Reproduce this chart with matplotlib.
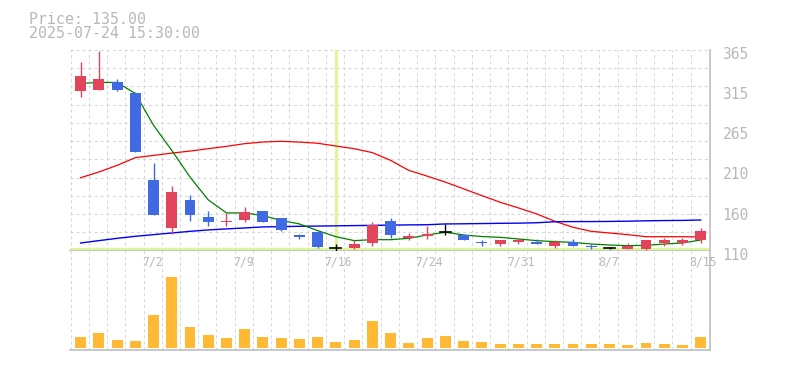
import matplotlib
matplotlib.use("Agg")
import matplotlib.pyplot as plt
from matplotlib.transforms import ScaledTranslation, blended_transform_factory
from matplotlib.patches import Rectangle

dates = ["6/26", "6/27", "6/30", "7/1", "7/2", "7/3", "7/4", "7/7", "7/8", "7/9",
         "7/10", "7/11", "7/14", "7/15", "7/16", "7/17", "7/18", "7/22", "7/23", "7/24",
         "7/25", "7/28", "7/29", "7/30", "7/31", "8/1", "8/4", "8/5", "8/6", "8/7",
         "8/8", "8/12", "8/13", "8/14", "8/15"]
opens = [313, 314, 324, 311, 200, 139, 174, 153, 146, 149.5,
         160, 151, 130.5, 134, 113, 114, 119.5, 148, 126, 128.3,
         133.5, 130.5, 120.3, 119, 120.5, 121.5, 115.5, 121.5, 115.3, 113.5,
         112.6, 112.5, 119.5, 120, 124]
highs = [350, 364, 328, 312, 221, 192, 181, 160, 158, 166,
         161, 152, 131, 135, 118.5, 123, 146, 152, 132.5, 142,
         144, 130.5, 124, 123, 126.5, 124.5, 123, 124.5, 118.5, 115,
         120, 124, 126, 126.5, 139]
lows = [305, 314, 313, 235, 155, 131, 148, 142, 142, 147,
        147, 135.5, 124.5, 114, 110.2, 112, 115.5, 126, 123.5, 124.5,
        129.5, 123.5, 116.5, 116.5, 118.5, 119, 114, 115.5, 112, 111.7,
        112.5, 111.3, 116.5, 117, 120]
closes = [332, 328, 314, 235, 155, 184, 155, 147, 148, 159,
          147, 136.5, 128, 115, 113, 118.5, 143, 129.5, 129, 131.7,
          133.5, 123.5, 119.8, 123, 123.5, 119, 120.5, 115.5, 115, 113.5,
          116, 124, 123, 123, 135]
ma5 = [322.5, 323.8, 323.8, 309.7, 269.4, 237.5, 203.5, 174.6, 158, 158,
       154.6, 148.5, 144, 135.5, 127.8, 122.8, 124, 124, 125.7, 130,
       133.4, 130, 128, 127, 124.9, 122.8, 121.5, 120.6, 118.5, 117.2,
       116.4, 116.8, 118.5, 119.8, 123.6]
ma25 = [202.7, 210, 218.4, 228.2, 231.1, 234, 236.6, 239.6, 242.6, 246,
        248.1, 249, 248, 246.5, 243, 239.6, 234.6, 224.8, 212, 204.8,
        197.1, 188.6, 180, 171.6, 164.4, 156.8, 147.4, 139.8, 134.6, 132.5,
        130.4, 127.8, 127.8, 127.8, 127.5]
ma75 = [119.8, 122.8, 125.7, 128.3, 130.4, 132.5, 134.6, 136.4, 137.7, 138.9,
        140.2, 140.6, 141, 141.3, 141.6, 141.9, 142.2, 142.5, 142.8, 143,
        144, 144.2, 144.5, 144.8, 145, 145.5, 146.8, 147, 147, 147.2,
        147.5, 148, 148.3, 148.5, 149]
volumes = [110, 150, 80, 70, 330, 710, 210, 130, 100, 190,
           110, 100, 90, 110, 60, 80, 270, 150, 50, 100,
           120, 70, 60, 40, 40, 40, 40, 40, 40, 40,
           30, 50, 40, 30, 110]
price_ticks = [110, 161, 212, 263, 314, 365]
price_tick_labels = ["110", "160", "210", "265", "315", "365"]
cursor_index = 14
header_lines = ["Price: 135.00", "2025-07-24 15:30:00"]

UP = "#e2445c"
DOWN = "#4169e1"
VOLC = "#ffb935"
GRID = "#d6d6d6"
AXC = "#c4c4c4"
TXT = "#b8b8b8"
CURSOR = "#ddf59b"

W, H = 785, 370
fig = plt.figure(figsize=(W / 100, H / 100), dpi=100)
L, R = 70, 710
PT, PB = 50, 250.7
VB = 350
ax = fig.add_axes([L / W, 1 - PB / H, (R - L) / W, (PB - PT) / H])
axv = fig.add_axes([L / W, 1 - VB / H, (R - L) / W, (VB - PB) / H], sharex=ax)

n = len(closes)
xs = list(range(n))
ymin, ymax = 110, 365
ax.set_xlim(-0.58, n - 1 + 0.51)
ax.set_ylim(ymin, ymax)

dash = (0, (2.9, 2.9))
# grid
for a in (ax, axv):
    for i in range(n):
        a.axvline(i - 0.55, color=GRID, lw=0.75, ls=dash, zorder=0)
for k in range(12):
    yv = ymin + (ymax - ymin) * k / 11
    ax.axhline(yv, color=GRID, lw=0.75, ls=dash, zorder=0)

# cursor
ax.axvline(cursor_index, color=CURSOR, lw=2.2, zorder=1)
ax.axhline(ymin + 1.9, color=CURSOR, lw=2.4, zorder=1)

# MAs
ax.plot(xs, ma25, color="#ff0000", lw=0.9, zorder=3)
ax.plot(xs, ma75, color="#0000ff", lw=1.0, zorder=3)
ax.plot(xs, ma5, color="#008000", lw=0.9, zorder=3)

bw = 0.6
for i in range(n):
    o, h, l, c = opens[i], highs[i], lows[i], closes[i]
    if c > o:
        col = UP
    elif c < o:
        col = DOWN
    else:
        col = "#000000"
    ax.plot([i, i], [l, h], color=col, lw=1.0, zorder=4, solid_capstyle="butt")
    if c == o:
        ax.plot([i - bw / 2, i + bw / 2], [c, c], color=col, lw=1.2, zorder=5)
    else:
        bot = min(o, c)
        ht = max(abs(c - o), 1.2)
        ax.add_patch(Rectangle((i - bw / 2, bot), bw, ht, facecolor=col,
                               edgecolor="none", zorder=5))

# volume
axv.bar(xs, volumes, width=bw, color=VOLC, zorder=3)
axv.set_ylim(-20, 973)

for a in (ax, axv):
    a.set_facecolor("white")
    for s in ("left", "top"):
        a.spines[s].set_visible(False)
    a.spines["bottom"].set_color(AXC)
    a.spines["bottom"].set_linewidth(1.3)
    a.spines["right"].set_color(AXC)
    a.spines["right"].set_linewidth(1.3)
    a.tick_params(axis="both", length=0)
axv.set_yticks([])
axv.tick_params(axis="x", labelbottom=False)
ax.tick_params(axis="x", labelbottom=False)

ax.yaxis.tick_right()
ax.set_yticks(price_ticks)
ax.set_yticklabels(price_tick_labels, family="DejaVu Sans Mono", fontsize=10.5,
                   color=TXT)
ax.tick_params(axis="y", pad=9)
for lab in ax.get_yticklabels():
    lab.set_transform(lab.get_transform() + ScaledTranslation(0, -3 / 100, fig.dpi_scale_trans))

# x labels
tr = blended_transform_factory(axv.transData, axv.transAxes)
for i in range(4, n, 5):
    axv.text(i - 0.63, 1 - 11.5 / (VB - PB), dates[i], transform=tr, ha="left",
             va="center", family="DejaVu Sans Mono", fontsize=8.3, color=TXT,
             zorder=6)

fig.text(29 / W, 1 - 23.5 / H, header_lines[0], family="DejaVu Sans Mono",
         fontsize=10.7, color=TXT, va="baseline", ha="left")
fig.text(29 / W, 1 - 38.5 / H, header_lines[1], family="DejaVu Sans Mono",
         fontsize=10.7, color=TXT, va="baseline", ha="left")

fig.savefig("out.png", dpi=100)
